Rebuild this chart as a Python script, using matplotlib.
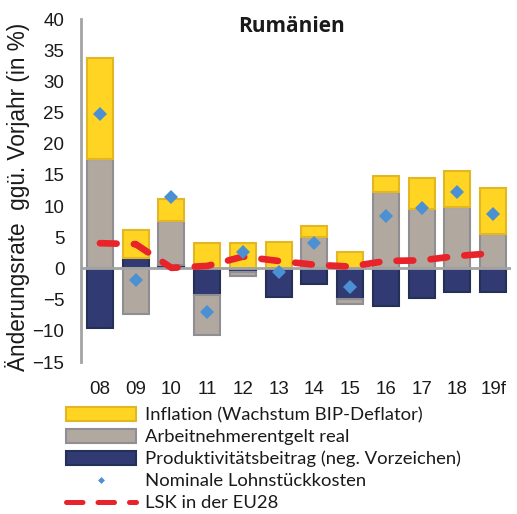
import matplotlib
matplotlib.use("Agg")
import matplotlib.pyplot as plt
from matplotlib.patches import Patch
from matplotlib.lines import Line2D
import numpy as np

# Data
years = ['08', '09', '10', '11', '12', '13', '14', '15', '16', '17', '18', '19f']
inflation = [16.2, 4.45, 3.6, 4.05, 4.05, 4.3, 1.7, 2.7, 2.6, 5.0, 5.8, 7.4]
real_comp = [17.5, -7.3, 7.1, -6.5, -0.7, 0.0, 5.1, -0.8, 12.2, 9.5, 9.9, 5.5]
productivity = [-9.6, 1.75, 0.5, -4.2, -0.5, -4.5, -2.5, -4.9, -6.1, -4.75, -3.8, -3.8]
nominal_ulc = [24.7, -1.8, 11.5, -7.05, 2.7, -0.5, 4.05, -3.05, 8.4, 9.75, 12.2, 8.75]
lsk_eu28 = [4.05, 3.9, 0.1, 0.4, 1.9, 1.2, 0.6, 0.3, 1.2, 1.3, 2.0, 2.45]

yticks = [40, 35, 30, 25, 20, 15, 10, 5, 0, -5, -10, -15]

labels = ['Inflation (Wachstum BIP-Deflator)',
          'Arbeitnehmerentgelt real',
          'Produktivitätsbeitrag (neg. Vorzeichen)',
          'Nominale Lohnstückkosten',
          'LSK in der EU28']

c_yellow, e_yellow = '#FFD422', '#E2B724'
c_grey, e_grey = '#B1A8A0', '#8F8F93'
c_navy, e_navy = '#313A72', '#243056'
c_diamond = '#4A90D2'
c_red = '#E8232A'

fig = plt.figure(figsize=(5.17, 5.14), dpi=100)
ax = fig.add_axes([81 / 517, 1 - 362 / 514, 430 / 517, 343 / 514])

x = np.arange(len(years))
width = 0.73

# Stack order: productivity, real compensation, inflation (signed stacking)
pos = np.zeros(len(years))
neg = np.zeros(len(years))
series = [(productivity, c_navy, e_navy),
          (real_comp, c_grey, e_grey),
          (inflation, c_yellow, e_yellow)]
for vals, fc, ec in series:
    vals = np.asarray(vals, dtype=float)
    bottom = np.where(vals >= 0, pos, neg)
    ax.bar(x, vals, width, bottom=bottom, color=fc, edgecolor=ec,
           linewidth=1.5, zorder=2)
    pos = pos + np.where(vals > 0, vals, 0)
    neg = neg + np.where(vals < 0, vals, 0)

ax.axhline(0, color='#A3A3A3', linewidth=2, zorder=3)

ax.plot(x, lsk_eu28, color=c_red, linewidth=4.8, dashes=(2.5, 2.6),
        dash_capstyle='round', solid_capstyle='round', zorder=4)
ax.plot(x, nominal_ulc, linestyle='none', marker='D', markersize=7.6,
        color=c_diamond, markeredgewidth=0, zorder=5)

ax.set_xlim(-0.53, 11.5)
ax.set_ylim(-15, 40)
ax.set_yticks(yticks)
ax.set_xticks(x)
ax.set_xticklabels(years)

for s in ['top', 'right', 'bottom']:
    ax.spines[s].set_visible(False)
ax.spines['left'].set_color('#A3A3A3')
ax.spines['left'].set_linewidth(2)

ax.tick_params(axis='both', length=0, labelsize=13.5, colors='#1a1a1a')
ax.tick_params(axis='y', pad=12)
ax.tick_params(axis='x', pad=14)
for t in ax.get_xticklabels() + ax.get_yticklabels():
    t.set_fontfamily('Liberation Sans')

fig.text(292 / 517, 1 - 26 / 514, 'Rumänien', ha='center', va='center',
         fontsize=15, fontweight='bold', family='Open Sans', color='#1a1a1a')

fig.text(18 / 517, 1 - 197 / 514, 'Änderungsrate  ggü. Vorjahr (in %)',
         rotation=90, ha='center', va='center', fontsize=16.3,
         family='Liberation Sans', color='#1a1a1a')

handles = [Patch(facecolor=c_yellow, edgecolor=e_yellow, linewidth=1.5),
           Patch(facecolor=c_grey, edgecolor=e_grey, linewidth=1.5),
           Patch(facecolor=c_navy, edgecolor=e_navy, linewidth=1.5),
           Line2D([], [], linestyle='none', marker='D', markersize=3.5,
                  color=c_diamond, markeredgewidth=0),
           Line2D([], [], color=c_red, linewidth=3.6, dashes=(3.3, 3.0),
                  dash_capstyle='round')]
leg = fig.legend(handles, labels, loc='upper left',
                 bbox_to_anchor=(66 / 517, 1 - 407 / 514),
                 frameon=False, borderpad=0, borderaxespad=0,
                 handlelength=3.8, handleheight=0.78, handletextpad=0.45,
                 labelspacing=0.3,
                 prop={'family': 'Lato', 'size': 13.3})
for t in leg.get_texts():
    t.set_color('#1a1a1a')

fig.savefig('out.png', dpi=100)
